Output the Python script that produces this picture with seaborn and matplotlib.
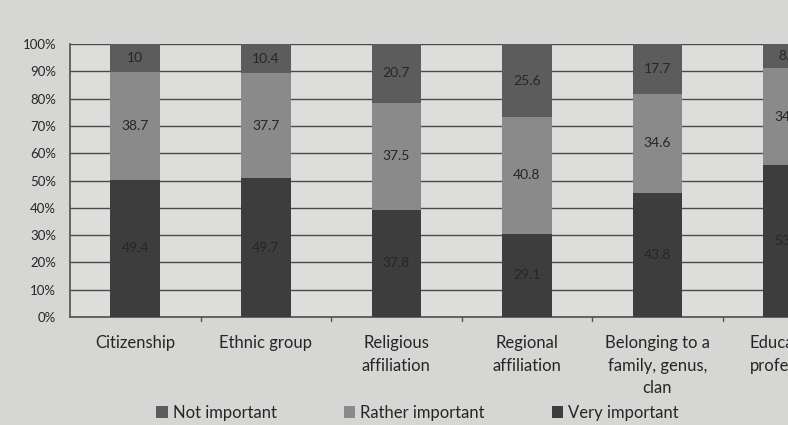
import numpy as np
import pandas as pd
import matplotlib
matplotlib.use("Agg")
import matplotlib.pyplot as plt
import seaborn as sns

categories = ["Citizenship", "Ethnic group", "Religious\naffiliation",
              "Regional\naffiliation", "Belonging to a\nfamily, genus,\nclan",
              "Education,\nprofession"]
very_important = [49.4, 49.7, 37.8, 29.1, 43.8, 53.4]
rather_important = [38.7, 37.7, 37.5, 40.8, 34.6, 34.2]
not_important = [10.0, 10.4, 20.7, 25.6, 17.7, 8.6]
y_ticks = [0, 10, 20, 30, 40, 50, 60, 70, 80, 90, 100]

sns.set_theme(style="white")
plt.rcParams["font.family"] = ["Lato", "DejaVu Sans"]

df = pd.DataFrame({"category": categories,
                   "very": very_important,
                   "rather": rather_important,
                   "not": not_important})
total = df["very"] + df["rather"] + df["not"]
# 100% stacked columns: each series as a share of its category total
df["very_pct"] = df["very"] / total * 100
df["rather_pct"] = df["rather"] / total * 100
df["not_pct"] = df["not"] / total * 100

paper = "#d6d6d4"
plot_bg = "#dddddb"
c_very = "#3d3d3d"
c_rather = "#8a8a8a"
c_not = "#5c5c5c"
txt = "#262626"

fig = plt.figure(figsize=(7.88, 4.25), dpi=100, facecolor=paper)
ax = fig.add_axes([70 / 788, 1 - 317 / 425, 1 - 70 / 788, (317 - 44) / 425])
ax.set_facecolor(plot_bg)

w = 0.38
bar_kw = dict(width=w, saturation=1, ax=ax, linewidth=0, zorder=3)
sns.barplot(data=df, x="category", y="very_pct", color=c_very,
            label="Very important", **bar_kw)
sns.barplot(data=df, x="category", y="rather_pct", bottom=df["very_pct"],
            color=c_rather, label="Rather important", **bar_kw)
sns.barplot(data=df, x="category", y="not_pct",
            bottom=df["very_pct"] + df["rather_pct"], color=c_not,
            label="Not important", **bar_kw)
if ax.get_legend() is not None:
    ax.get_legend().remove()

# value labels centred in each segment
for i, row in df.iterrows():
    segs = [(row["very"], 0, row["very_pct"]),
            (row["rather"], row["very_pct"], row["rather_pct"]),
            (row["not"], row["very_pct"] + row["rather_pct"], row["not_pct"])]
    for val, base, h in segs:
        ax.text(i, base + h / 2, f"{val:g}", ha="center", va="center",
                fontsize=10, color=txt, zorder=4)

ax.set_xlim(-0.5, 5.0)
ax.set_ylim(0, 100)
ax.set_yticks(y_ticks)
ax.set_yticklabels([f"{t}%" for t in y_ticks], fontsize=9.5, color=txt)
ax.yaxis.grid(True, color="#4a4a4a", linewidth=1.0, zorder=1)
ax.set_xlabel("")
ax.set_ylabel("")
ax.set_xticks(np.arange(len(categories)))
ax.set_xticklabels(categories, fontsize=12, color=txt, linespacing=1.5)
ax.tick_params(axis="x", length=0, pad=13)
ax.tick_params(axis="y", length=0, pad=10)

for s in ["top", "right"]:
    ax.spines[s].set_visible(False)
ax.spines["left"].set_color("#555555")
ax.spines["bottom"].set_color("#555555")

# small ticks between categories
for b in np.arange(0.5, 5.0, 1.0):
    ax.plot([b, b], [0, -1.6], color="#555555", lw=1, clip_on=False)

handles, labels = ax.get_legend_handles_labels()
order = [labels.index("Not important"), labels.index("Rather important"),
         labels.index("Very important")]
fig.legend([handles[k] for k in order], [labels[k] for k in order],
           loc="lower center", bbox_to_anchor=(0.53, -0.025), ncol=3,
           frameon=False, fontsize=12, handlelength=0.7, handleheight=0.7,
           handletextpad=0.3, columnspacing=4.0, labelcolor=txt)

fig.savefig("out.png", dpi=100, facecolor=paper)
